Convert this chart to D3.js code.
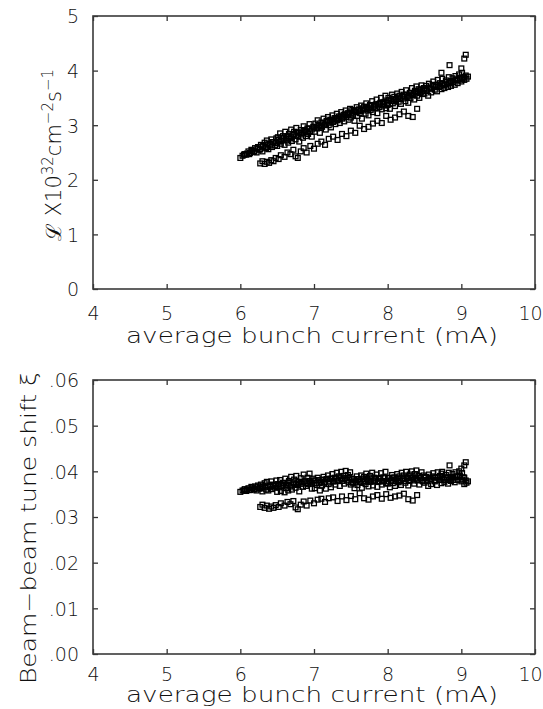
<!DOCTYPE html>
<html><head><meta charset="utf-8">
<script src="https://cdn.jsdelivr.net/npm/d3@7"></script>
<style>
body{margin:0;background:#fff}
text{font-family:'DejaVu Sans ExtraLight','DejaVu Sans',sans-serif;font-weight:200;fill:#111}
</style>
</head><body>
<svg id="c" width="543" height="709"></svg>
<script>
// ---- data ----
const mainCurrent = [
6.00,6.03,6.06,6.08,6.11,6.13,6.15,6.18,6.20,6.22,6.24,6.26,6.28,6.30,6.31,6.33,6.35,6.36,6.38,6.40,6.42,6.43,6.45,6.47,6.49,
6.50,6.51,6.53,6.54,6.55,6.57,6.58,6.60,6.61,6.62,6.64,6.65,6.66,6.68,6.69,6.70,6.72,6.73,6.75,6.76,6.78,6.79,6.80,6.82,6.83,6.85,6.86,6.88,6.89,6.91,6.92,6.94,6.95,6.97,6.99,
7.01,7.02,7.04,7.05,7.07,7.08,7.10,7.11,7.13,7.14,7.16,7.17,7.19,7.20,7.22,7.23,7.25,7.26,7.28,7.29,7.31,7.32,7.34,7.35,7.37,7.38,7.40,7.41,7.43,7.44,7.46,7.47,7.49,
7.50,7.52,7.53,7.55,7.56,7.58,7.59,7.61,7.62,7.64,7.65,7.67,7.68,7.70,7.71,7.73,7.74,7.76,7.77,7.79,7.80,7.82,7.83,7.85,7.86,7.88,7.89,7.91,7.92,7.94,7.95,7.97,7.98,
8.00,8.01,8.03,8.04,8.06,8.07,8.09,8.10,8.12,8.13,8.15,8.16,8.18,8.19,8.21,8.22,8.24,8.25,8.27,8.28,8.30,8.31,8.33,8.34,8.36,8.37,8.39,8.40,8.42,8.43,8.45,8.46,8.48,8.49,
8.50,8.52,8.53,8.55,8.56,8.58,8.59,8.61,8.62,8.64,8.65,8.67,8.68,8.70,8.71,8.73,8.74,8.76,8.77,8.79,8.80,8.82,8.83,8.85,8.86,8.88,8.89,8.91,8.92,8.94,8.95,8.97,8.98,9.00,9.01,9.03,9.04,9.06,9.07,9.09];
const mainLumi = [
2.40,2.44,2.47,2.46,2.52,2.49,2.55,2.51,2.58,2.50,2.60,2.55,2.64,2.52,2.62,2.68,2.58,2.72,2.56,2.66,2.74,2.60,2.69,2.63,2.76,
2.62,2.78,2.70,2.85,2.66,2.74,2.80,2.64,2.88,2.72,2.79,2.68,2.84,2.76,2.92,2.71,2.82,2.88,2.74,2.95,2.80,2.86,2.70,2.91,2.83,2.77,2.98,2.87,2.80,2.94,2.84,3.02,2.89,2.79,2.97,
2.88,3.03,2.94,3.09,2.99,2.86,3.05,2.97,3.12,3.01,2.92,3.08,3.15,3.00,3.10,2.96,3.18,3.06,3.13,3.02,3.21,3.09,3.16,3.04,3.24,3.12,3.19,3.07,3.27,3.15,3.22,3.10,3.30,
3.14,3.28,3.19,3.08,3.25,3.33,3.17,3.29,3.22,3.36,3.12,3.27,3.34,3.21,3.40,3.30,3.18,3.37,3.28,3.44,3.24,3.36,3.31,3.47,3.22,3.39,3.33,3.50,3.29,3.42,3.36,3.54,3.31,
3.37,3.50,3.30,3.45,3.56,3.40,3.52,3.35,3.48,3.58,3.43,3.54,3.39,3.61,3.49,3.56,3.44,3.64,3.52,3.41,3.59,3.50,3.68,3.55,3.47,3.63,3.71,3.54,3.66,3.50,3.60,3.73,3.57,3.68,
3.58,3.72,3.63,3.54,3.76,3.67,3.60,3.74,3.80,3.65,3.71,3.62,3.83,3.70,3.77,3.66,3.85,3.73,3.68,3.82,3.75,3.70,3.88,3.78,3.72,3.86,3.80,3.74,3.90,3.83,3.77,3.93,3.86,3.80,3.96,3.88,3.83,3.91,3.85,3.89];
const mainTune = [
.0355,.0358,.0361,.0357,.0363,.0359,.0366,.0360,.0367,.0358,.0369,.0362,.0371,.0356,.0366,.0374,.0360,.0377,.0358,.0368,.0378,.0361,.0370,.0364,.0380,
.0355,.0372,.0365,.0381,.0357,.0368,.0375,.0354,.0384,.0363,.0371,.0358,.0379,.0367,.0388,.0360,.0374,.0382,.0364,.0390,.0370,.0377,.0356,.0385,.0373,.0366,.0393,.0378,.0368,.0386,.0372,.0395,.0376,.0362,.0384,
.0363,.0380,.0370,.0386,.0374,.0358,.0381,.0369,.0388,.0375,.0362,.0383,.0391,.0372,.0384,.0365,.0394,.0378,.0386,.0371,.0397,.0380,.0389,.0368,.0399,.0382,.0390,.0373,.0401,.0385,.0392,.0376,.0398,
.0371,.0384,.0375,.0363,.0380,.0389,.0370,.0383,.0376,.0391,.0364,.0379,.0388,.0372,.0395,.0381,.0367,.0390,.0377,.0397,.0369,.0386,.0380,.0393,.0366,.0384,.0378,.0396,.0371,.0387,.0379,.0399,.0374,
.0373,.0386,.0365,.0380,.0392,.0374,.0387,.0368,.0382,.0394,.0376,.0389,.0370,.0397,.0383,.0391,.0375,.0399,.0385,.0369,.0393,.0381,.0400,.0387,.0373,.0394,.0402,.0382,.0390,.0371,.0385,.0398,.0378,.0391,
.0375,.0388,.0380,.0368,.0393,.0383,.0372,.0389,.0396,.0378,.0386,.0370,.0398,.0382,.0390,.0374,.0399,.0384,.0377,.0392,.0386,.0373,.0397,.0385,.0379,.0394,.0387,.0376,.0398,.0389,.0381,.0400,.0391,.0378,.0396,.0387,.0372,.0380,.0375,.0378];

const coreCurrent = [6.05,6.09,6.12,6.16,6.19,6.23,6.27,6.30,6.34,6.37,6.41,6.44,6.48,6.52,6.55,6.59,6.62,6.66,6.69,6.73,6.76,6.80,6.83,6.87,6.90,6.94,6.97,
7.00,7.03,7.06,7.09,7.12,7.15,7.18,7.21,7.24,7.27,7.30,7.33,7.36,7.39,7.42,7.45,7.48,7.51,7.54,7.57,7.60,7.63,7.66,7.69,7.72,7.75,7.78,7.81,7.84,7.87,7.90,7.93,7.96,7.99,
8.02,8.05,8.08,8.11,8.14,8.17,8.20,8.23,8.26,8.29,8.32,8.35,8.38,8.41,8.44,8.47,8.50,8.53,8.56,8.59,8.62,8.65,8.68,8.71,8.74,8.77,8.80,8.83,8.86,8.89,8.92,8.95,8.98,9.01,9.04];
const coreLumi = [2.46,2.48,2.47,2.53,2.52,2.57,2.56,2.61,2.60,2.65,2.63,2.69,2.67,2.73,2.71,2.77,2.75,2.80,2.78,2.84,2.81,2.87,2.85,2.91,2.88,2.94,2.92,
2.97,2.95,3.00,2.98,3.04,3.01,3.07,3.05,3.10,3.08,3.13,3.11,3.16,3.14,3.20,3.18,3.23,3.21,3.26,3.24,3.28,3.26,3.31,3.29,3.33,3.31,3.36,3.34,3.38,3.36,3.41,3.39,3.43,3.41,
3.46,3.44,3.48,3.46,3.51,3.49,3.54,3.52,3.56,3.54,3.59,3.57,3.61,3.60,3.64,3.62,3.67,3.65,3.69,3.67,3.72,3.70,3.74,3.72,3.76,3.74,3.79,3.77,3.81,3.79,3.84,3.82,3.86,3.84,3.87];
const coreTune = [.0358,.0360,.0359,.0363,.0361,.0365,.0363,.0367,.0365,.0369,.0366,.0371,.0368,.0372,.0369,.0374,.0370,.0375,.0371,.0376,.0372,.0377,.0373,.0378,.0374,.0379,.0375,
.0380,.0375,.0381,.0376,.0382,.0377,.0383,.0378,.0384,.0378,.0384,.0379,.0385,.0379,.0385,.0380,.0386,.0376,.0383,.0377,.0383,.0377,.0384,.0377,.0384,.0378,.0384,.0378,.0384,.0378,.0385,.0378,.0385,.0378,
.0385,.0379,.0385,.0379,.0385,.0379,.0385,.0379,.0386,.0379,.0386,.0380,.0386,.0380,.0386,.0380,.0386,.0380,.0386,.0380,.0387,.0381,.0387,.0381,.0387,.0381,.0387,.0381,.0387,.0381,.0388,.0382,.0388,.0382,.0386];

const lowCurrent = [6.27,6.30,6.33,6.36,6.39,6.42,6.45,6.48,6.52,6.55,6.60,6.64,6.68,6.72,6.75,6.78,6.82,6.86,6.90,6.95,7.00,7.05,7.10,7.15,7.20,7.26,7.32,7.38,7.44,7.50,7.56,7.62,7.68,7.74,7.80,7.86,7.92,7.98,8.04,8.10,8.16,8.22,8.28,8.34,8.40];
const lowLumi = [2.30,2.34,2.29,2.33,2.31,2.36,2.34,2.40,2.38,2.45,2.42,2.50,2.47,2.55,2.43,2.40,2.52,2.58,2.50,2.62,2.57,2.66,2.70,2.64,2.75,2.79,2.73,2.84,2.80,2.90,2.86,2.99,2.93,2.97,3.03,3.08,3.04,3.17,3.10,3.14,3.20,3.25,3.17,3.15,3.30];
const lowTune = [.0322,.0327,.0320,.0325,.0318,.0323,.0320,.0326,.0322,.0330,.0325,.0333,.0328,.0335,.0321,.0317,.0327,.0334,.0325,.0336,.0330,.0338,.0340,.0333,.0341,.0343,.0335,.0345,.0337,.0346,.0339,.0352,.0341,.0338,.0345,.0348,.0340,.0350,.0342,.0345,.0347,.0351,.0339,.0336,.0348];

const outCurrent = [9.06,9.04,8.84,9.00,8.73];
const outLumi = [4.29,4.22,4.10,4.04,3.96];
const outTune = [.0420,.0413,.0413,.0406,.0395];

const xTicks = [4,5,6,7,8,9,10];
const lumiTicks = [0,1,2,3,4,5];
const tuneTicks = [0,.01,.02,.03,.04,.05,.06];
const xTitle = "average bunch current (mA)";

// ---- drawing ----
const svg = d3.select("#c");
const X0 = 93, X1 = 535;

function panel(cfg){
  const x = d3.scaleLinear().domain([4,10]).range([X0,X1]);
  const y = d3.scaleLinear().domain(cfg.domain).range([cfg.bottom,cfg.top]);
  const g = svg.append("g");
  const ax = (sel)=>{ sel.select(".domain").remove(); sel.selectAll(".tick line").attr("stroke","#333").attr("stroke-width",1.3); };
  g.append("g").attr("transform",`translate(${X0},0)`)
    .call(d3.axisLeft(y).tickValues(cfg.ticks).tickSize(-5).tickPadding(14).tickFormat(cfg.fmt))
    .call(ax).call(s=>s.selectAll("text").attr("font-size",19).attr("fill","#111").attr("font-family",null).attr("dy","0.36em"));
  g.append("g").attr("transform",`translate(${X1},0)`)
    .call(d3.axisRight(y).tickValues(cfg.ticks).tickSize(-5).tickFormat(""))
    .call(ax);
  g.append("g").attr("transform",`translate(0,${cfg.top})`)
    .call(d3.axisTop(x).tickValues(xTicks).tickSize(-5).tickFormat(""))
    .call(ax);
  g.append("g").attr("transform",`translate(0,${cfg.bottom})`)
    .call(d3.axisBottom(x).tickValues(xTicks).tickSize(-5).tickPadding(0).tickFormat(d3.format("d")))
    .call(ax).call(s=>s.selectAll("text").attr("font-size",19).attr("fill","#111").attr("font-family",null).attr("dy",null)
      .attr("y",cfg.tickBase).attr("x",d=>d===10?-5:0));
  g.append("rect").attr("x",X0).attr("y",cfg.top).attr("width",X1-X0).attr("height",cfg.bottom-cfg.top)
    .attr("fill","none").attr("stroke","#3a3a3a").attr("stroke-width",1.6);
  const pts = g.append("g");
  const drawSet = (xs, ys) => {
    pts.selectAll(null).data(xs.map((v,i)=>[v,ys[i]])).enter().append("rect")
      .attr("x",d=>x(d[0])-2.4).attr("y",d=>y(d[1])-2.4).attr("width",4.8).attr("height",4.8)
      .attr("fill","none").attr("stroke","#000").attr("stroke-width",1.3);
  };
  cfg.sets.forEach(s=>drawSet(s[0],s[1]));
  g.append("text").attr("x",(X0+X1)/2 - 2).attr("y",cfg.xTitleY).attr("text-anchor","middle")
    .attr("font-size",21).attr("textLength",372).attr("lengthAdjust","spacingAndGlyphs").text(xTitle);
  return {x,y,g};
}

const panelTop = panel({domain:[0,5], top:16, bottom:289, ticks:lumiTicks, fmt:d3.format("d"),
  tickBase:31, xTitleY:343,
  sets:[[mainCurrent,mainLumi],[coreCurrent,coreLumi],[lowCurrent,lowLumi],[outCurrent,outLumi]]});
const panelBot = panel({domain:[0,0.06], top:380, bottom:654, ticks:tuneTicks, fmt:d=>d3.format(".2f")(d).replace(/^0/,""),
  tickBase:27, xTitleY:702,
  sets:[[mainCurrent,mainTune],[coreCurrent,coreTune],[lowCurrent,lowTune],[outCurrent,outTune]]});

const t1 = svg.append("text").attr("transform","translate(61,155) rotate(-90)").attr("text-anchor","middle").attr("font-size",21);
t1.append("tspan").text("\u2112 X10");
t1.append("tspan").attr("dy",-8).attr("font-size",15).text("32");
t1.append("tspan").attr("dy",8).text("cm");
t1.append("tspan").attr("dy",-8).attr("font-size",15).text("\u22122");
t1.append("tspan").attr("dy",8).text("s");
t1.append("tspan").attr("dy",-8).attr("font-size",15).text("\u22121");

svg.append("text").attr("transform","translate(36,528) rotate(-90)").attr("text-anchor","middle").attr("font-size",21)
  .attr("textLength",312).attr("lengthAdjust","spacingAndGlyphs").text("Beam\u2212beam tune shift \u03BE");
</script>
</body></html>
